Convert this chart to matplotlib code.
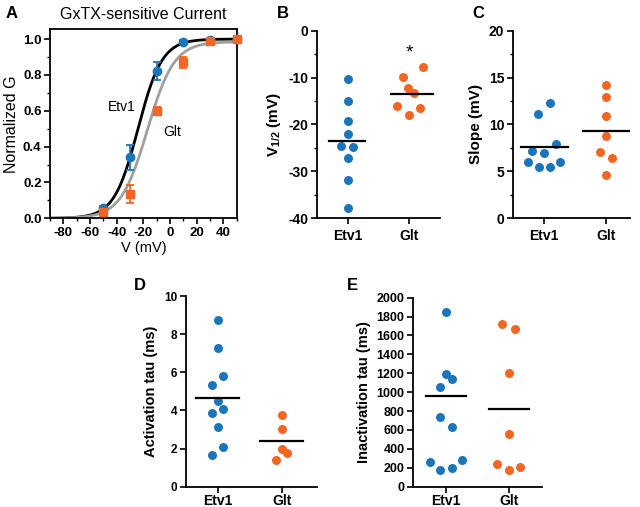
import numpy as np
import matplotlib
matplotlib.use("Agg")
import matplotlib.pyplot as plt
from matplotlib.ticker import MultipleLocator

plt.rcParams['font.family'] = ['Liberation Sans', 'DejaVu Sans']
plt.rcParams['mathtext.fontset'] = 'custom'
plt.rcParams['mathtext.rm'] = 'Liberation Sans'
plt.rcParams['mathtext.bf'] = 'Liberation Sans:bold'
plt.rcParams['axes.unicode_minus'] = False

BLUE = '#1b75bb'
ORANGE = '#f26522'
GRAY = '#a0a0a0'

# ---------------- data ----------------
groups = ['Etv1', 'Glt']

# Panel A: G-V
voltages = [-50, -30, -10, 10, 30, 50]
etv1_g = [0.06, 0.34, 0.82, 0.985, 0.995, 1.0]
etv1_err = [0.01, 0.07, 0.05, 0.01, 0.005, 0.0]
glt_g = [0.035, 0.135, 0.60, 0.87, 0.99, 1.0]
glt_err = [0.01, 0.05, 0.02, 0.03, 0.005, 0.0]
# Boltzmann fit parameters (V1/2, slope, max)
etv1_fit = (-24.0, 9.0, 1.0)
glt_fit = (-17.0, 10.0, 0.985)

# Panel B: V1/2 (mV)
v12_etv1 = [-10.2, -15.0, -19.2, -22.0, -24.5, -24.8, -27.2, -31.8, -37.9]
v12_glt = [-7.7, -9.8, -12.3, -13.2, -16.1, -16.5, -17.9]
v12_mean = [-23.6, -13.4]

# Panel C: slope (mV)
slope_etv1 = [12.3, 11.1, 7.9, 7.2, 6.95, 6.0, 6.0, 5.4, 5.5]
slope_glt = [14.2, 12.9, 10.9, 8.8, 7.1, 6.4, 4.6]
slope_mean = [7.6, 9.3]

# Panel D: activation tau (ms)
act_etv1 = [8.72, 7.29, 5.80, 5.33, 4.51, 3.85, 4.09, 3.15, 2.06, 1.64]
act_glt = [3.76, 3.02, 1.98, 1.75, 1.38]
act_mean = [4.65, 2.38]

# Panel E: inactivation tau (ms)
inact_etv1 = [1852, 1192, 1139, 1058, 741, 631, 265, 279, 176, 198]
inact_glt = [1718, 1668, 1203, 557, 236, 180, 208]
inact_mean = [960, 825]

# horizontal jitter (layout only)
jit_b_etv1 = [0, 0, 0, 0, -0.1, 0.09, 0, 0, 0]
jit_b_glt = [0.23, -0.10, -0.02, 0.08, -0.20, 0.17, 0.0]
jit_c_etv1 = [0.1, -0.1, 0.19, -0.19, 0, -0.27, 0.26, -0.09, 0.1]
jit_c_glt = [0, 0, 0, 0, -0.1, 0.1, 0]
jit_d_etv1 = [0, 0, 0.085, -0.085, 0, -0.085, 0.085, 0, 0.085, -0.085]
jit_d_glt = [0, 0, 0, 0.08, -0.09]
jit_e_etv1 = [0, 0, 0.09, -0.09, -0.09, 0.09, -0.25, 0.25, -0.09, 0.09]
jit_e_glt = [-0.1, 0.1, 0, 0, -0.19, 0, 0.18]

fig = plt.figure(figsize=(6.4, 5.07), dpi=100)


def boltz(v, p):
    vh, k, a = p
    return a / (1.0 + np.exp((vh - v) / k))


def style_axes(ax, tick_fs, xpad=2.5):
    for s in ax.spines.values():
        s.set_linewidth(1.3)
    ax.tick_params(axis='both', which='major', direction='out', length=4,
                   width=1.2, labelsize=tick_fs, pad=2)
    ax.tick_params(axis='x', which='major', pad=xpad)
    ax.tick_params(axis='both', which='minor', direction='out', length=2.5,
                   width=1.0)
    for lab in ax.get_xticklabels() + ax.get_yticklabels():
        lab.set_fontweight('bold')


# ---------------- Panel A ----------------
axA = fig.add_axes([0.078, 0.5694, 0.292, 0.373])
vv = np.linspace(-90, 50, 300)
axA.plot(vv, boltz(vv, etv1_fit), color='black', lw=2.0, zorder=2)
axA.plot(vv, boltz(vv, glt_fit), color=GRAY, lw=2.0, zorder=2)
axA.errorbar(voltages, etv1_g, yerr=etv1_err, fmt='o', color=BLUE, ms=6,
             capsize=3, elinewidth=1.3, capthick=1.3, zorder=3, clip_on=False)
axA.errorbar(voltages, glt_g, yerr=glt_err, fmt='s', color=ORANGE, ms=6,
             capsize=3, elinewidth=1.3, capthick=1.3, zorder=4, clip_on=False)
axA.set_xlim(-90, 50)
axA.set_ylim(0, 1.055)
axA.xaxis.set_major_locator(MultipleLocator(20))
axA.xaxis.set_minor_locator(MultipleLocator(10))
axA.yaxis.set_major_locator(MultipleLocator(0.2))
axA.yaxis.set_minor_locator(MultipleLocator(0.1))
axA.yaxis.set_major_formatter(matplotlib.ticker.FormatStrFormatter('%.1f'))
style_axes(axA, 9.5)
axA.set_xlabel('V (mV)', fontsize=10.5, labelpad=1)
axA.set_ylabel('Normalized G', fontsize=11.5, labelpad=3)
axA.set_title('GxTX-sensitive Current', fontsize=11.5, pad=7)
axA.text(-36, 0.62, 'Etv1', fontsize=10, ha='center', va='center')
axA.text(1.5, 0.48, 'Glt', fontsize=10, ha='center', va='center')


def scatter_panel(rect, a_vals, b_vals, ja, jb, means, ylim, major, minor,
                  ylabel, xlim, tick_fs, cat_fs, lab_fs, mw, ms=42, xpad=2.5):
    ax = fig.add_axes(rect)
    ax.scatter(np.array(ja) + 0, a_vals, s=ms, color=BLUE, lw=0, zorder=3,
               clip_on=False)
    ax.scatter(np.array(jb) + 1, b_vals, s=ms, color=ORANGE, lw=0, zorder=3,
               clip_on=False)
    for i, m in enumerate(means):
        ax.plot([i - mw[i][0], i + mw[i][1]], [m, m], color='black', lw=1.6,
                zorder=4)
    ax.set_xlim(*xlim)
    ax.set_ylim(*ylim)
    ax.set_xticks([0, 1])
    ax.set_xticklabels(groups)
    ax.yaxis.set_major_locator(MultipleLocator(major))
    if minor:
        ax.yaxis.set_minor_locator(MultipleLocator(minor))
    ax.spines['top'].set_visible(False)
    ax.spines['right'].set_visible(False)
    style_axes(ax, tick_fs, xpad)
    for lab in ax.get_xticklabels():
        lab.set_fontsize(cat_fs)
    ax.set_ylabel(ylabel, fontsize=lab_fs, fontweight='bold', labelpad=4)
    return ax


axB = scatter_panel([0.495, 0.570, 0.1925, 0.369], v12_etv1, v12_glt,
                    jit_b_etv1, jit_b_glt, v12_mean, (-40, 0), 10, 5,
                    r'V$_{\mathbf{1/2}}$ (mV)', (-0.5, 1.5), 10, 10, 11,
                    [(0.3, 0.28), (0.3, 0.38)], xpad=4)
axB.text(1.0, -4.8, '*', fontsize=14, ha='center', va='center')

axC = scatter_panel([0.801, 0.570, 0.183, 0.369], slope_etv1, slope_glt,
                    jit_c_etv1, jit_c_glt, slope_mean, (0, 20), 5, 2.5,
                    'Slope (mV)', (-0.51, 1.38), 10, 10, 11,
                    [(0.38, 0.38), (0.38, 0.38)], xpad=4)

axD = scatter_panel([0.290, 0.040, 0.205, 0.376], act_etv1, act_glt,
                    jit_d_etv1, jit_d_glt, act_mean, (0, 10), 2, None,
                    'Activation tau (ms)', (-0.5, 1.55), 8.5, 10, 10.5,
                    [(0.33, 0.33), (0.33, 0.33)], xpad=1)

axE = scatter_panel([0.645, 0.040, 0.2016, 0.373], inact_etv1, inact_glt,
                    jit_e_etv1, jit_e_glt, inact_mean, (0, 2000), 200, None,
                    'Inactivation tau (ms)', (-0.53, 1.53), 9, 10, 10.5,
                    [(0.32, 0.32), (0.32, 0.32)], xpad=1)

# panel letters
for letter, x, y in [('A', 12, 13), ('B', 283, 13), ('C', 478, 13),
                     ('D', 140, 285), ('E', 352, 285)]:
    fig.text(x / 640, 1 - y / 507, letter, fontsize=12, fontweight='bold',
             ha='center', va='center')

fig.savefig('out.png', dpi=100)
